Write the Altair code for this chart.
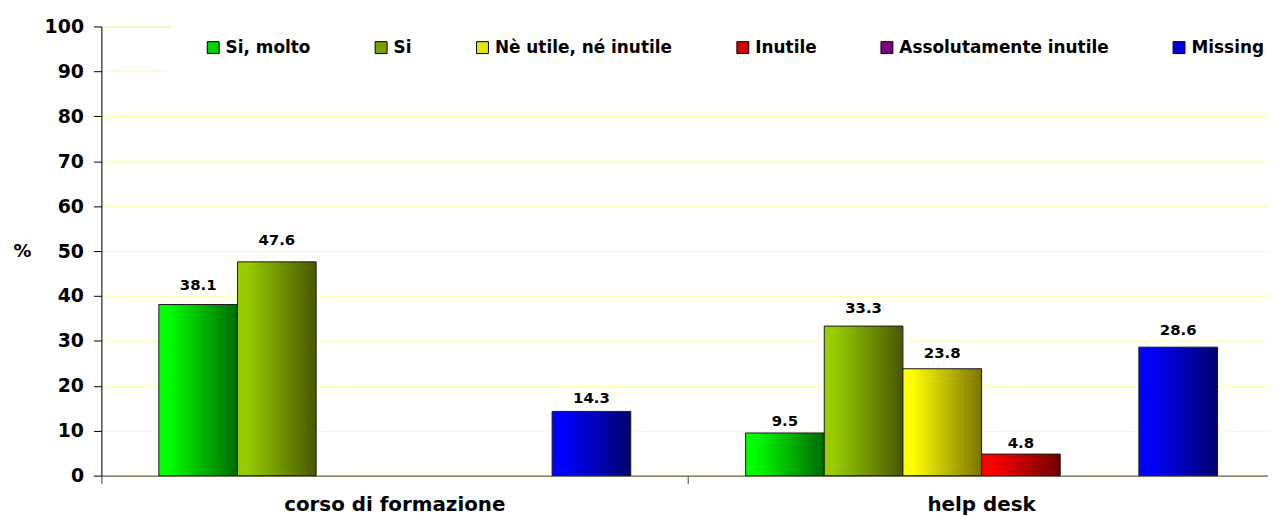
import altair as alt
import pandas as pd

groups = ["corso di formazione", "help desk"]
series = ["Si, molto", "Si", "Nè utile, né inutile", "Inutile", "Assolutamente inutile", "Missing"]
corso_values = [38.1, 47.6, 0, 0, 0, 14.3]
helpdesk_values = [9.5, 33.3, 23.8, 4.8, 0, 28.6]
legend_colors = ["#00d000", "#7aa000", "#e6e600", "#d00000", "#800080", "#0000d8"]
grad_light = ["#00ff00", "#99cc00", "#ffff00", "#ff0000", "#990099", "#0000ff"]
grad_dark = ["#006a00", "#485800", "#7a7400", "#6e0000", "#400040", "#00006e"]

rows = []
for g, vals in zip(groups, [corso_values, helpdesk_values]):
    for s, v in zip(series, vals):
        rows.append({"grp": g, "serie": s, "val": v})
df = pd.DataFrame(rows)
df_nonzero = df[df["val"] > 0]

FONT = "DejaVu Sans"

conds = []
for s, lo, hi in zip(series, grad_light, grad_dark):
    conds.append({
        "test": f"datum.serie === '{s}'",
        "value": {
            "gradient": "linear", "x1": 0, "x2": 1, "y1": 0, "y2": 0,
            "stops": [
                {"offset": 0, "color": lo},
                {"offset": 0.12, "color": lo},
                {"offset": 1, "color": hi},
            ],
        },
    })

x_enc = alt.X(
    "grp:N",
    sort=groups,
    title=None,
    scale=alt.Scale(domain=groups, paddingInner=0, paddingOuter=0, range=[0, 1181]),
    axis=alt.Axis(
        bandPosition=0, labelAngle=0,
        labelFont=FONT, labelFontSize=20, labelFontWeight="bold", labelColor="black",
        labelPadding=11, labelLimit=500, tickSize=8, tickColor="#404040",
        domainColor="#404040", grid=False,
    ),
)
xoff_enc = alt.XOffset(
    "serie:N", sort=series,
    scale=alt.Scale(domain=series, paddingInner=0, paddingOuter=0.73),
)
y_axis = alt.Axis(
    values=list(range(0, 101, 10)), title="%", titleAngle=0, titleX=-89, titleY=226,
    titleAlign="left", titleBaseline="middle", titleFont=FONT, titleFontSize=18,
    titleFontWeight="bold", titleColor="black",
    labelFont=FONT, labelFontSize=19, labelFontWeight="bold", labelColor="black",
    labelPadding=10, tickSize=8, tickColor="black", domainColor="black",
    grid=True, gridColor="#ffff99", gridWidth=1,
)

color_enc = alt.Color(
    "serie:N",
    scale=alt.Scale(domain=series, range=legend_colors),
    condition=conds,
    legend=alt.Legend(
        title=None, orient="none", legendX=70, legendY=-21.5, direction="horizontal",
        symbolType="square", symbolSize=144, symbolStrokeColor="black", symbolStrokeWidth=1,
        labelFont=FONT, labelFontSize=17, labelFontWeight="bold", labelColor="black",
        labelOffset=4, labelLimit=500, columnPadding=62, padding=34, fillColor="white",
        labelExpr="datum.label == 'Si' ? 'Si     ' : datum.label",
    ),
)

base = alt.Chart(df_nonzero)

bars = base.mark_bar(stroke="#1a1a1a", strokeWidth=1).encode(
    x=x_enc,
    xOffset=xoff_enc,
    y=alt.Y("val:Q", scale=alt.Scale(domain=[0, 100]), axis=y_axis),
    color=color_enc,
)

labels = base.transform_calculate(
    ly="datum.val * 1.055 + 2.2"
).mark_text(
    font=FONT, fontWeight="bold", fontSize=15, baseline="middle", color="black"
).encode(
    x=x_enc,
    xOffset=xoff_enc,
    y=alt.Y("ly:Q", scale=alt.Scale(domain=[0, 100])),
    text=alt.Text("val:Q", format=".1f"),
)

chart = alt.layer(bars, labels).properties(
    width=1174, height=452,
    autosize=alt.AutoSizeParams(type="none"),
    padding={"left": 94, "top": 17, "right": 0, "bottom": 39},
).configure_view(strokeWidth=0).configure(font=FONT)

chart.save("out.html", embed_options={"renderer": "svg", "actions": False})
